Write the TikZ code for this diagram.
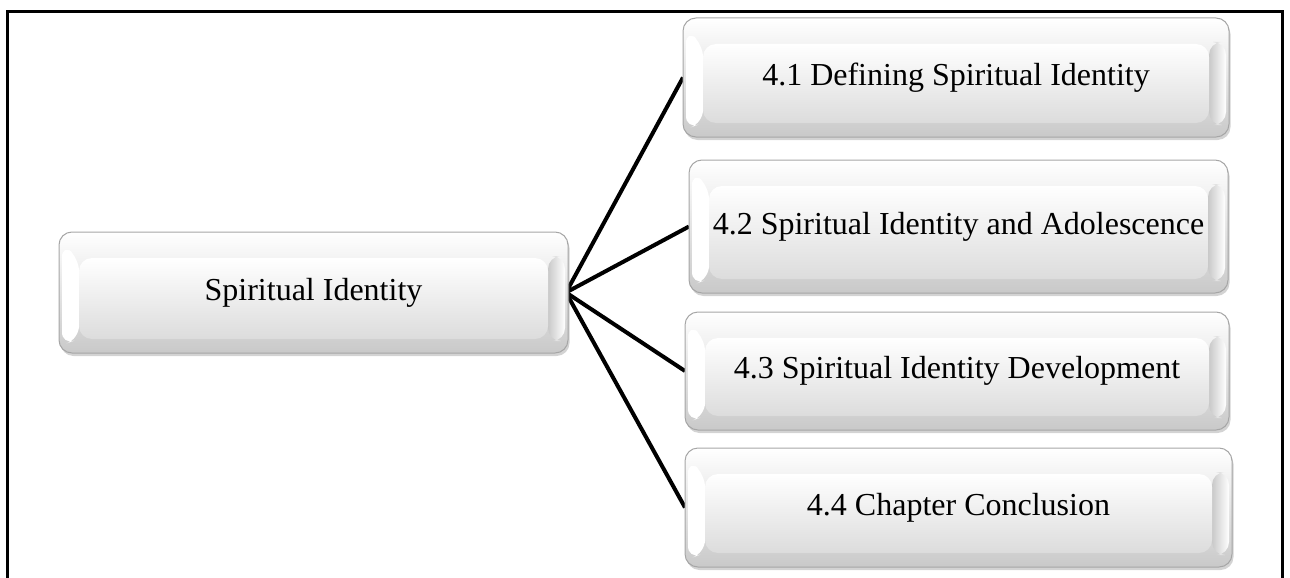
\documentclass[tikz,border=0pt]{standalone}
\usepackage{fontspec}
\setmainfont{Liberation Serif}
\usetikzlibrary{shadows,backgrounds}
\definecolor{boxlow}{HTML}{C9C9C9}
\definecolor{facelow}{HTML}{DCDCDC}
\definecolor{boxedge}{HTML}{A6A6A6}
\tikzset{
  bevelbox/.style={
    rounded corners=13pt, draw=boxedge, line width=1pt,
    top color=white, bottom color=boxlow,
    inner sep=0pt, outer sep=0pt, align=center,
    font=\fontsize{32}{37}\selectfont,
    drop shadow={opacity=0.35, shadow xshift=1.5pt, shadow yshift=-3pt},
    path picture={
      % light facet on the left, soft grey one on the right
      \fill[white] ([xshift=3pt,yshift=-12pt]path picture bounding box.north west)
        -- ([xshift=20pt,yshift=-26pt]path picture bounding box.north west)
        -- ([xshift=20pt,yshift=14pt]path picture bounding box.south west)
        -- ([xshift=3pt,yshift=8pt]path picture bounding box.south west) -- cycle;
      \shade[left color=boxlow, right color=white]
        ([xshift=-20pt,yshift=-24pt]path picture bounding box.north east)
        rectangle ([xshift=-3pt,yshift=12pt]path picture bounding box.south east);
      % front face
      \shade[top color=white, bottom color=facelow]
        ([xshift=20pt,yshift=-26pt]path picture bounding box.north west)
        rectangle ([xshift=-20pt,yshift=14pt]path picture bounding box.south east);
    }
  },
  link/.style={line width=4pt, black},
  frameline/.style={line width=3pt, black}
}
\begin{document}
\begin{tikzpicture}[x=1pt, y=-1pt]
  \useasboundingbox (0,0) rectangle (1290,578);
  % open frame round the chart
  \draw[frameline] (7,580) -- (7,12) -- (1282,12) -- (1282,580);

  % boxes
  \node[bevelbox, minimum width=509pt, minimum height=121pt] (root) at (313.5,292.5) {Spiritual Identity};
  \node[bevelbox, minimum width=546pt, minimum height=119pt] (s1) at (956,77.5) {4.1 Defining Spiritual Identity};
  \node[bevelbox, minimum width=539pt, minimum height=133pt] (s2) at (958.5,226.5) {4.2 Spiritual Identity and Adolescence};
  \node[bevelbox, minimum width=544pt, minimum height=118pt] (s3) at (957,371) {4.3 Spiritual Identity Development};
  \node[bevelbox, minimum width=547pt, minimum height=119pt] (s4) at (958.5,507.5) {4.4 Chapter Conclusion};

  % connectors fanning out from the root box
  \begin{scope}[on background layer]
    \foreach \t in {s1,s2,s3,s4}
      \draw[link] ([xshift=-2pt]root.east) -- (\t.west);
  \end{scope}
\end{tikzpicture}
\end{document}
